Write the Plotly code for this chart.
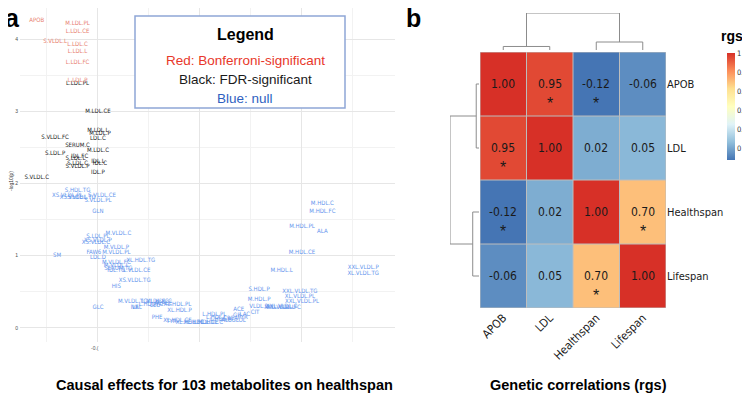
import plotly.graph_objects as go

# the page body has an 8px margin, so the figure is laid out 8px smaller
OFF = 8
W, H = 750 - OFF, 407 - OFF
NARROW = "Liberation Sans Narrow, Arial Narrow, DejaVu Sans Condensed, Arial, sans-serif"
SANS = "Liberation Sans, Arial, Helvetica, sans-serif"

# ---------- panel a: MR effects (beta) vs -log10(p) ----------
bonf_names = ["APOB", "M.LDL.PL", "L.LDL.CE", "S.VLDL.L", "L.LDL.C", "L.LDL.L", "L.LDL.FC", "L.LDL.P"]
bonf_beta = [-0.080, -0.060, -0.060, -0.071, -0.060, -0.060, -0.060, -0.060]
bonf_logp = [4.26, 4.21, 4.10, 3.97, 3.92, 3.83, 3.67, 3.43]

fdr_names = ["L.LDL.PL", "M.LDL.CE", "M.LDL.L", "M.LDL.P", "LDL.C", "S.VLDL.FC", "SERUM.C",
             "M.LDL.C", "S.LDL.P", "IDL.FC", "S.LDL.L", "IDL.L", "S.LDL.C", "IDL.C",
             "S.VLDL.P", "IDL.P", "S.VLDL.C"]
fdr_beta = [-0.060, -0.050, -0.050, -0.049, -0.050, -0.071, -0.060,
            -0.050, -0.071, -0.059, -0.061, -0.050, -0.060, -0.049,
            -0.060, -0.050, -0.080]
fdr_logp = [3.38, 3.00, 2.73, 2.69, 2.62, 2.63, 2.53,
            2.45, 2.41, 2.38, 2.34, 2.30, 2.28, 2.28,
            2.23, 2.15, 2.08]

null_names = ["S.HDL.TG", "XS.VLDL.PL", "XS.VLDL.L", "S.VLDL.TG", "S.VLDL.CE", "S.VLDL.PL", "GLN",
              "M.VLDL.C", "S.LDL.PL", "XS.VLDL.P", "XS.VLDL.C", "M.VLDL.P", "FAW6", "M.VLDL.PL",
              "SM", "LDL.D", "XL.HDL.TG", "M.VLDL.FC", "M.VLDL.L", "SERUM.TG", "IDL.TG",
              "L.VLDL.CE", "XS.VLDL.TG", "HIS", "M.VLDL.TG", "L.VLDL.FC", "XL.HDL.C", "L.HDL.FC",
              "XL.HDL.PL", "VAL", "ILE", "GLC", "LEU", "XL.HDL.P", "PHE", "XL.HDL.CE",
              "XL.HDL.FC", "XL.HDL.L", "L.HDL.CE", "L.HDL.PL", "L.HDL.L", "L.HDL.P", "L.HDL.C",
              "ALB", "ACE", "CIT", "GP", "PYR", "GLOL", "LAC", "S.HDL.P", "M.HDL.P", "VLDL.D",
              "XXL.VLDL.C", "XXL.VLDL.L", "XXL.VLDL.FC", "XXL.VLDL.TG", "XL.VLDL.PL",
              "XXL.VLDL.PL", "M.HDL.C", "M.HDL.FC", "M.HDL.PL", "ALA", "M.HDL.CE", "M.HDL.L",
              "XXL.VLDL.P", "XL.VLDL.TG", "TYR", "CREA", "ACACE"]
null_beta = [-0.060, -0.065, -0.062, -0.058, -0.048, -0.050, -0.050,
             -0.040, -0.050, -0.050, -0.051, -0.041, -0.052, -0.041,
             -0.070, -0.050, -0.029, -0.041, -0.041, -0.040, -0.041,
             -0.031, -0.032, -0.041, -0.033, -0.022, -0.020, -0.024,
             -0.011, -0.031, -0.032, -0.050, -0.022, -0.010, -0.021, -0.011,
             -0.005, -0.002, 0.003, 0.007, 0.008, 0.010, 0.006,
             0.013, 0.019, 0.027, 0.018, 0.021, 0.019, 0.022, 0.029, 0.029, 0.029,
             0.040, 0.039, 0.041, 0.049, 0.049,
             0.050, 0.060, 0.060, 0.050, 0.060, 0.050, 0.040,
             0.080, 0.080, -0.014, 0.015, -0.018]
null_logp = [1.90, 1.83, 1.81, 1.80, 1.83, 1.76, 1.61,
             1.31, 1.26, 1.21, 1.19, 1.11, 1.04, 1.04,
             1.00, 0.97, 0.94, 0.91, 0.87, 0.83, 0.79,
             0.79, 0.66, 0.57, 0.37, 0.37, 0.36, 0.32,
             0.32, 0.28, 0.29, 0.29, 0.31, 0.24, 0.15, 0.10,
             0.07, 0.07, 0.08, 0.19, 0.15, 0.12, 0.08,
             0.10, 0.26, 0.22, 0.17, 0.14, 0.11, 0.19, 0.53, 0.40, 0.30,
             0.30, 0.28, 0.29, 0.51, 0.43,
             0.37, 1.73, 1.61, 1.40, 1.34, 1.04, 0.80,
             0.84, 0.75, 0.09, 0.13, 0.34]

# ---------- panel b: genetic correlations ----------
traits = ["APOB", "LDL", "Healthspan", "Lifespan"]
rg = [[1.00, 0.95, -0.12, -0.06],
      [0.95, 1.00, 0.02, 0.05],
      [-0.12, 0.02, 1.00, 0.70],
      [-0.06, 0.05, 0.70, 1.00]]
sig = [[0, 1, 1, 0],
       [1, 0, 0, 0],
       [1, 0, 0, 1],
       [0, 0, 1, 0]]
# hierarchical clustering merge heights: (APOB,LDL), (Healthspan,Lifespan), root
merge_h = [0.19, 0.43, 1.99]
cbar_ticks = [0, 0.2, 0.4, 0.6, 0.8, 1]

# pheatmap default palette: rev(brewer.pal(7, "RdYlBu"))
rdylbu7 = ["#4575B4", "#91BFDB", "#E0F3F8", "#FFFFBF", "#FEE090", "#FC8D59", "#D73027"]
cscale = [[i / 6, c] for i, c in enumerate(rdylbu7)]


def px_x(p):
    return (p - OFF) / W


def px_y(p):
    return 1 - (p - OFF) / H


fig = go.Figure()

groups = [(null_names, null_beta, null_logp, "#6495ED"),
          (fdr_names, fdr_beta, fdr_logp, "#1A1A1A"),
          (bonf_names, bonf_beta, bonf_logp, "#E8806F")]
for names, beta, logp, col in groups:
    fig.add_trace(go.Scatter(
        x=beta, y=logp, text=names, mode="text", cliponaxis=False,
        textfont=dict(family=NARROW, size=6, color=col),
        hoverinfo="skip", showlegend=False, xaxis="x", yaxis="y"))

# heatmap
fig.add_trace(go.Heatmap(
    z=rg, x=[0, 1, 2, 3], y=[0, 1, 2, 3], xaxis="x2", yaxis="y2",
    colorscale=cscale, zmin=-0.12, zmax=1.0, hoverinfo="skip",
    colorbar=dict(x=px_x(727), xanchor="left", y=px_y(53), yanchor="top",
                  len=107 / H, lenmode="fraction", thickness=8, xpad=0, ypad=0,
                  outlinewidth=0, ticks="", tickvals=cbar_ticks,
                  ticktext=[f"{t:g}" for t in cbar_ticks],
                  tickfont=dict(family=NARROW, size=7.5, color="#333333"))))

# dendrograms built from merge heights
h1, h2, h3 = merge_h
dx = [0, 0, 1, 1, None, 2, 2, 3, 3, None, 0.5, 0.5, 2.5, 2.5]
dy = [0, h1, h1, 0, None, 0, h2, h2, 0, None, h1, h3, h3, h2]
dcol = dict(color="#8C8C8C", width=1)
fig.add_trace(go.Scatter(x=dx, y=dy, mode="lines", line=dcol, xaxis="x3", yaxis="y3",
                         hoverinfo="skip", showlegend=False))
fig.add_trace(go.Scatter(x=dy, y=dx, mode="lines", line=dcol, xaxis="x4", yaxis="y4",
                         hoverinfo="skip", showlegend=False))

ann = []
for i in range(4):
    for j in range(4):
        ann.append(dict(x=j, y=i, xref="x2", yref="y2", text=f"{rg[i][j]:.2f}",
                        font=dict(family=NARROW, size=12, color="#1A1A1A")))
        if sig[i][j]:
            ann.append(dict(x=j, y=i, xref="x2", yref="y2", text="*", yshift=-19,
                            font=dict(family=SANS, size=16, color="#1A1A1A")))

# texts
ann += [
    dict(x=px_x(12), y=px_y(18), text="<b>a</b>", font=dict(family=SANS, size=25, color="black")),
    dict(x=px_x(413), y=px_y(18), text="<b>b</b>", font=dict(family=SANS, size=25, color="black")),
    dict(x=px_x(245), y=px_y(34), text="<b>Legend</b>", font=dict(family=SANS, size=16, color="black")),
    dict(x=px_x(245), y=px_y(60), text="Red: Bonferroni-significant",
         font=dict(family=SANS, size=13.5, color="#E8372A")),
    dict(x=px_x(245), y=px_y(79), text="Black: FDR-significant",
         font=dict(family=SANS, size=13.5, color="#1A1A1A")),
    dict(x=px_x(245), y=px_y(98), text="Blue: null", font=dict(family=SANS, size=13.5, color="#2E5FBF")),
    dict(x=px_x(11), y=px_y(181), text="-log10(p)", textangle=-90,
         font=dict(family=SANS, size=5, color="#333333")),
    dict(x=px_x(95), y=px_y(348), text="-0.(", font=dict(family=SANS, size=5, color="#555555")),
    dict(x=px_x(224), y=px_y(385), text="<b>Causal effects for 103 metabolites on healthspan</b>",
         font=dict(family=SANS, size=14.5, color="black")),
    dict(x=px_x(578), y=px_y(385), text="<b>Genetic correlations (rgs)</b>",
         font=dict(family=SANS, size=14.5, color="black")),
    dict(x=px_x(732), y=px_y(36), text="<b>rgs</b>", font=dict(family=SANS, size=14, color="black")),
]
for a in ann:
    a.setdefault("xref", "paper")
    a.setdefault("yref", "paper")
    a.setdefault("xanchor", "center")
    a.setdefault("yanchor", "middle")
    a["showarrow"] = False

# cell borders
shapes = []
for k in range(5):
    shapes.append(dict(type="line", xref="x2", yref="y2", x0=k - 0.5, x1=k - 0.5, y0=-0.5, y1=3.5,
                       line=dict(color="#BDBDBD", width=1)))
    shapes.append(dict(type="line", xref="x2", yref="y2", y0=k - 0.5, y1=k - 0.5, x0=-0.5, x1=3.5,
                       line=dict(color="#BDBDBD", width=1)))
shapes.append(dict(type="rect", xref="paper", yref="paper", x0=px_x(135), x1=px_x(345),
                   y0=px_y(108), y1=px_y(16), line=dict(color="#8FA6D6", width=1.5),
                   fillcolor="white"))

hidden = dict(visible=False, showgrid=False, zeroline=False, automargin=False)
fig.update_layout(
    width=W, height=H, margin=dict(l=0, r=0, t=0, b=0, autoexpand=False),
    paper_bgcolor="white", plot_bgcolor="white", showlegend=False,
    xaxis=dict(domain=[px_x(20), px_x(395)], range=[-0.0882, 0.0956], showticklabels=False,
               ticks="", zeroline=False, showline=False, tick0=0, dtick=0.05, automargin=False,
               gridcolor="#E6E6E6", gridwidth=1,
               minor=dict(dtick=0.025, showgrid=True, gridcolor="#F2F2F2", gridwidth=1)),
    yaxis=dict(domain=[px_y(342), px_y(OFF)], range=[-0.194, 4.54 - OFF / 72.25], tick0=0, dtick=1,
               ticks="", zeroline=False, showline=False, gridcolor="#E6E6E6", gridwidth=1,
               automargin=False, tickfont=dict(family=SANS, size=5, color="#4D4D4D"),
               ticklabelstandoff=1,
               minor=dict(dtick=0.5, showgrid=True, gridcolor="#F2F2F2", gridwidth=1)),
    xaxis2=dict(domain=[px_x(480), px_x(666)], range=[-0.5, 3.5], anchor="y2", automargin=False,
                tickvals=[0, 1, 2, 3], ticktext=traits, tickangle=-45, ticks="",
                showgrid=False, zeroline=False, showline=False,
                tickfont=dict(family=NARROW, size=11.5, color="#1A1A1A")),
    yaxis2=dict(domain=[px_y(308), px_y(52)], range=[3.5, -0.5], anchor="x2", side="right",
                tickvals=[0, 1, 2, 3], ticktext=traits, ticks="", automargin=False,
                showgrid=False, zeroline=False, showline=False,
                tickfont=dict(family=NARROW, size=11, color="#1A1A1A")),
    xaxis3=dict(domain=[px_x(480), px_x(666)], range=[-0.5, 3.5], anchor="y3", **hidden),
    yaxis3=dict(domain=[px_y(50), px_y(13)], range=[0, h3], anchor="x3", **hidden),
    xaxis4=dict(domain=[px_x(450), px_x(479)], range=[h3, 0], anchor="y4", **hidden),
    yaxis4=dict(domain=[px_y(308), px_y(52)], range=[3.5, -0.5], anchor="x4", **hidden),
    annotations=ann, shapes=shapes,
)

fig.write_html("out.html")
